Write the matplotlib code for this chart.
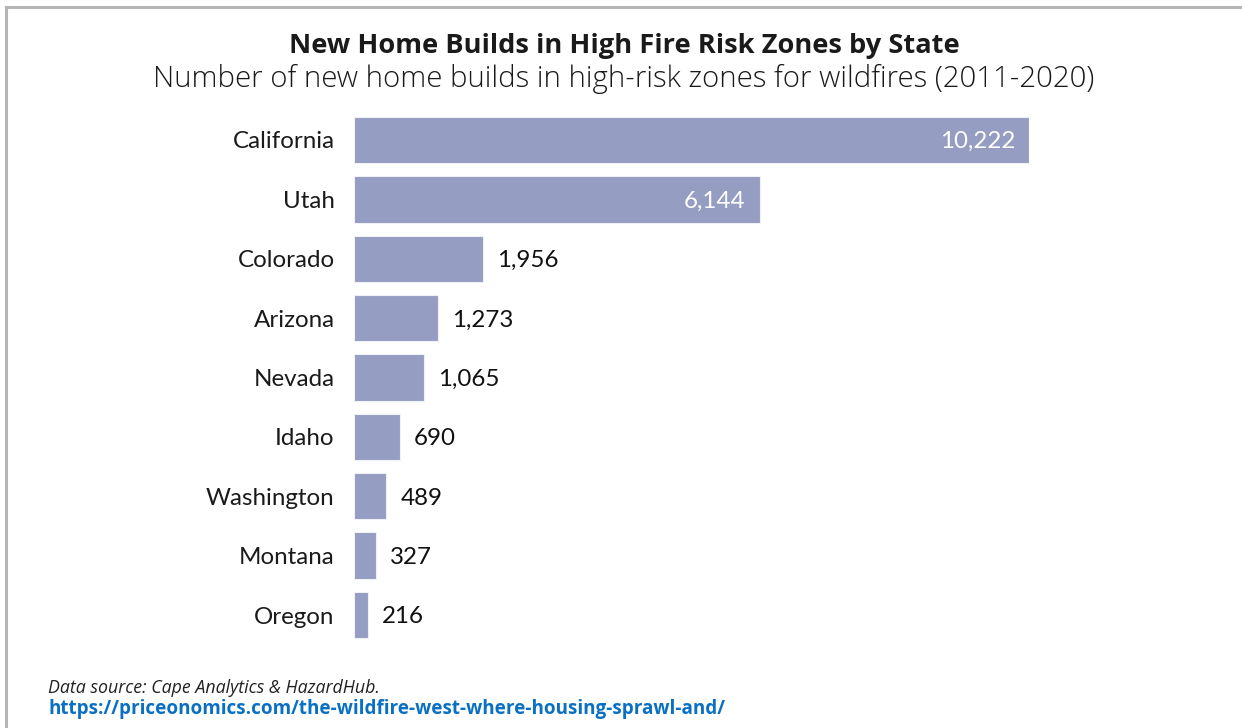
import matplotlib.pyplot as plt
from matplotlib.lines import Line2D

states = ['California', 'Utah', 'Colorado', 'Arizona', 'Nevada',
          'Idaho', 'Washington', 'Montana', 'Oregon']
builds = [10222, 6144, 1956, 1273, 1065, 690, 489, 327, 216]

W, H = 1242, 728
bar_color = '#959dc2'

fig = plt.figure(figsize=(W / 100, H / 100), dpi=100)

# axes placed in pixel terms: bars start at x=354, longest ends at x=1029
left, right = 354, 1029
top, bottom = 110.3, 644.7
ax = fig.add_axes([left / W, 1 - bottom / H, (right - left) / W, (bottom - top) / H])

y = list(range(len(states)))
ax.barh(y, builds, height=0.78, color=bar_color, edgecolor='#eef0f6', linewidth=0.8)
ax.set_xlim(0, max(builds))
ax.set_ylim(len(states) - 0.5, -0.5)

ax.set_yticks(y)
ax.set_yticklabels(states, fontsize=17.4, family='Lato', color='#1a1a1a')
ax.tick_params(axis='y', length=0, pad=14)
ax.set_xticks([])
for s in ax.spines.values():
    s.set_visible(False)

px = max(builds) / (right - left)
for yi, v in zip(y, builds):
    label = f'{v:,}'
    if v > 5000:
        ax.text(v - 14 * px, yi + 0.03, label, ha='right', va='center', fontsize=17.4,
                family='Lato', color='white')
    else:
        ax.text(v + 14 * px, yi + 0.03, label, ha='left', va='center', fontsize=17.4,
                family='Lato', color='#111111')

fig.text(624 / W, 1 - 46 / H, 'New Home Builds in High Fire Risk Zones by State',
         ha='center', va='center', fontsize=19.6, fontweight='bold',
         family='Open Sans', color='#1a1a1a')
fig.text(624 / W, 1 - 79 / H,
         'Number of new home builds in high-risk zones for wildfires (2011-2020)',
         ha='center', va='center', fontsize=21.2, fontweight='light',
         family='Open Sans', color='#1a1a1a')

fig.text(48 / W, 1 - 688 / H, 'Data source: Cape Analytics & HazardHub.',
         ha='left', va='center', fontsize=12.8, style='italic',
         family='Open Sans', color='#222222')
fig.text(48 / W, 1 - 709 / H,
         'https://priceonomics.com/the-wildfire-west-where-housing-sprawl-and/',
         ha='left', va='center', fontsize=13.6, fontweight='bold',
         family='Open Sans', color='#0a70c4')

# thin gray frame on the top and left edges
fig.add_artist(Line2D([6 / W, 6 / W], [0, 1 - 7 / H], color='#b5b5b5', lw=2.2,
                      transform=fig.transFigure))
fig.add_artist(Line2D([6 / W, 1], [1 - 7 / H, 1 - 7 / H], color='#b5b5b5', lw=2.2,
                      transform=fig.transFigure))

fig.savefig('out.png', dpi=100)
